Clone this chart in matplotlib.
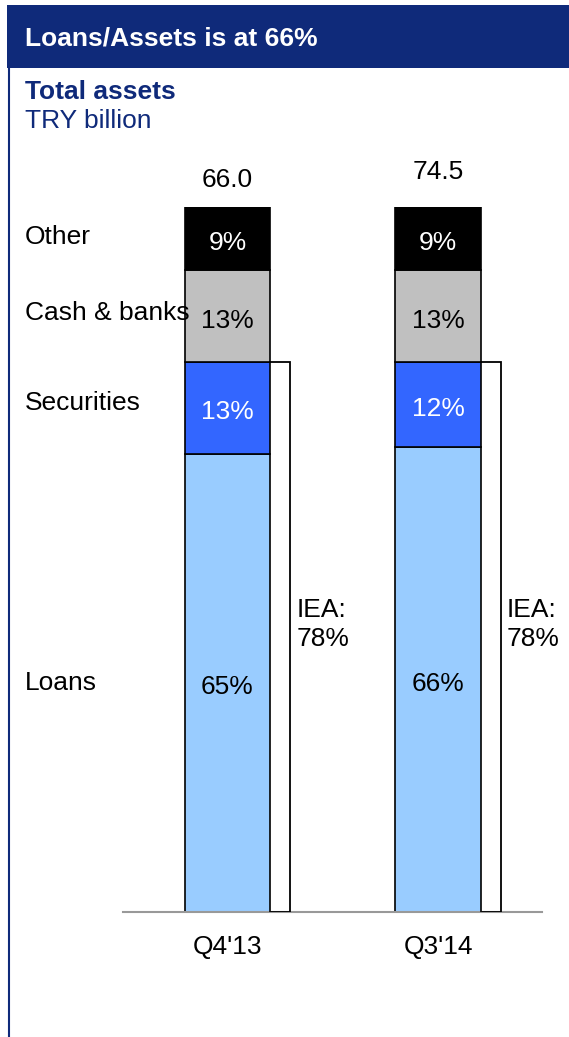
import matplotlib
matplotlib.use("Agg")
import matplotlib.pyplot as plt
from matplotlib.patches import Rectangle

plt.rcParams['font.family'] = ['Liberation Sans', 'DejaVu Sans']

# asset mix per quarter, in % of total assets
quarters = ["Q4'13", "Q3'14"]
totals = ["66.0", "74.5"]
segments = ["Loans", "Securities", "Cash & banks", "Other"]
loans = [65, 66]
securities = [13, 12]
cash_banks = [13, 13]
other = [9, 9]
iea = [78, 78]

colors = ["#99CCFF", "#3366FF", "#C0C0C0", "#000000"]
text_colors = ["black", "white", "black", "white"]
navy = "#0F2A7A"
fs = 19

W, H = 569, 1037
fig = plt.figure(figsize=(W / 100, H / 100), dpi=100)

def fx(px):
    return px / W

def fy(py):
    return 1 - py / H

# header band and left frame line
fig.patches.append(Rectangle((fx(7), fy(68)), fx(W - 7), 63 / H, transform=fig.transFigure,
                             facecolor=navy, edgecolor="none"))
fig.add_artist(plt.Line2D([fx(8.5), fx(8.5)], [fy(68), 0], transform=fig.transFigure,
                          color=navy, lw=1.5))
fig.text(fx(25), fy(39), "Loans/Assets is at 66%", color="white", fontsize=fs,
         fontweight="bold", va="center")
fig.text(fx(25), fy(92), "Total assets", color=navy, fontsize=fs, fontweight="bold", va="center")
fig.text(fx(25), fy(121), "TRY billion", color=navy, fontsize=fs, va="center")

ax = fig.add_axes([fx(123), fy(912), fx(542 - 123), 705 / H])
ax.set_xlim(-0.4964, 1.494)
ax.set_ylim(0, 100)
ax.axis("off")

width = 0.404
x = [0, 1]
series = [loans, securities, cash_banks, other]
bottoms = [0, 0]
for vals, col, tcol in zip(series, colors, text_colors):
    ax.bar(x, vals, width=width, bottom=bottoms, color=col, edgecolor="black", lw=1.2)
    for i in range(2):
        ax.text(x[i], bottoms[i] + vals[i] / 2 - 0.6, f"{vals[i]}%", color=tcol,
                fontsize=fs, ha="center", va="center")
    bottoms = [b + v for b, v in zip(bottoms, vals)]

# baseline
ax.plot([-0.4964, 1.494], [0, 0], color="#999999", lw=1.5, clip_on=False)

# totals above bars
total_offsets = [3.8, 4.9]
for i in range(2):
    ax.text(x[i], bottoms[i] + total_offsets[i], totals[i], fontsize=fs,
            ha="center", va="center")
    ax.text(x[i], -4.9, quarters[i], fontsize=fs, ha="center", va="center")

# interest earning assets bracket
for i in range(2):
    right = x[i] + width / 2
    bx = right + 0.095
    top = iea[i]
    ax.plot([right, bx, bx, right], [top, top, 0, 0], color="black", lw=1.3,
            solid_joinstyle="miter")
    ax.text(bx + 0.03, top / 2 + 1.8, f"IEA:\n{iea[i]}%", fontsize=fs,
            ha="left", va="center", linespacing=1.3)

# segment names on the left
for seg, py in zip(segments, [683, 403, 313, 237]):
    fig.text(fx(25), fy(py), seg, fontsize=fs, va="center")

fig.savefig("out.png", dpi=100)
